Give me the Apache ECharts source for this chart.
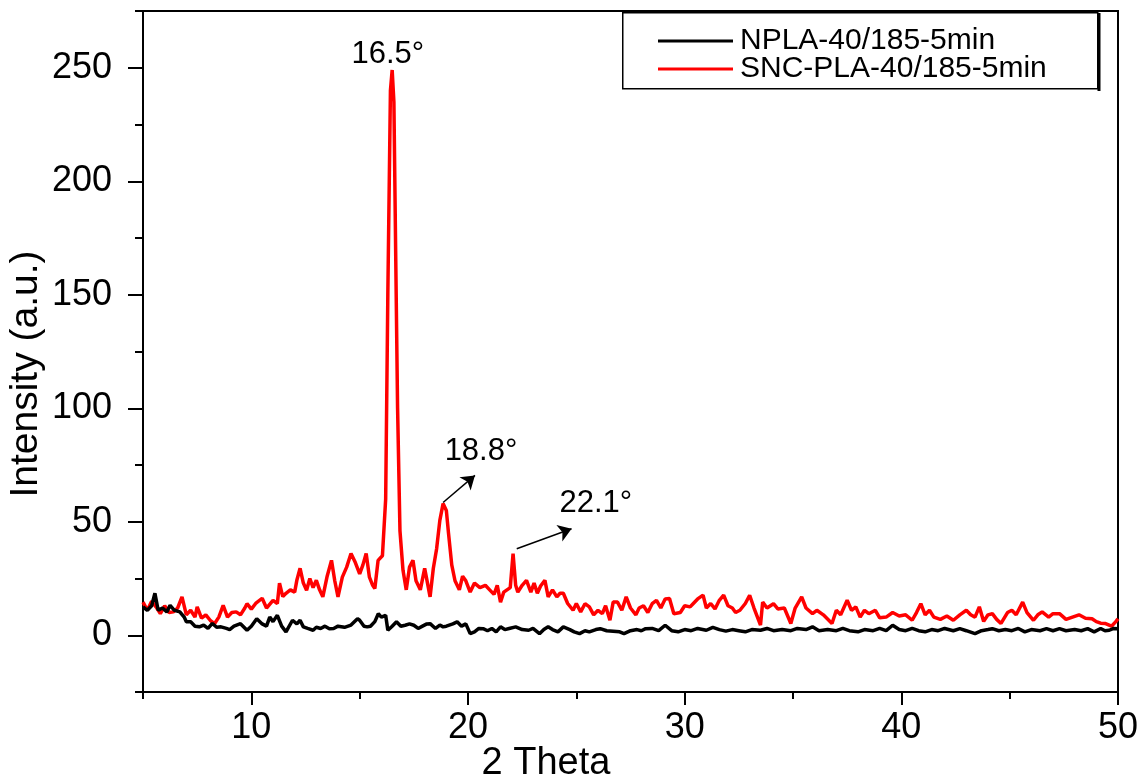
<!DOCTYPE html>
<html>
<head>
<meta charset="utf-8">
<script src="https://cdn.jsdelivr.net/npm/echarts@6/dist/echarts.min.js"></script>
<style>html,body{margin:0;padding:0;background:#fff;}#c{width:1145px;height:783px;}</style>
</head>
<body>
<div id="c"></div>
<script>
// ---- Data ----
const seriesNames = ['NPLA-40/185-5min', 'SNC-PLA-40/185-5min'];

const redX = [5.0,5.2,5.4,5.6,5.8,6.0,6.2,6.4,6.6,6.8,7.0,7.2,7.4,7.5,7.7,7.9,8.1,8.3,8.5,8.7,8.9,9.1,9.3,9.5,9.7,9.8,10.0,10.2,10.5,10.7,11.0,11.2,11.3,11.45,11.6,11.8,12.0,12.1,12.25,12.4,12.55,12.7,12.85,13.0,13.15,13.3,13.5,13.7,13.85,14.0,14.2,14.4,14.6,14.8,15.0,15.15,15.3,15.45,15.6,15.7,15.85,16.05,16.2,16.3,16.42,16.5,16.58,16.66,16.75,16.86,17.0,17.15,17.3,17.46,17.6,17.8,18.0,18.15,18.25,18.4,18.55,18.7,18.85,19.0,19.1,19.25,19.4,19.6,19.75,19.9,20.1,20.3,20.55,20.8,21.0,21.2,21.35,21.5,21.65,21.8,21.95,22.08,22.2,22.3,22.5,22.7,22.9,23.05,23.2,23.35,23.55,23.7,23.9,24.1,24.25,24.4,24.6,24.85,25.0,25.2,25.4,25.6,25.8,26.0,26.2,26.35,26.55,26.7,26.9,27.1,27.3,27.5,27.75,27.9,28.1,28.3,28.5,28.7,28.9,29.1,29.3,29.5,29.8,30.0,30.25,30.4,30.6,30.85,31.0,31.2,31.4,31.6,31.8,32.0,32.2,32.35,32.55,32.8,33.0,33.2,33.5,33.6,33.8,34.1,34.3,34.6,34.9,35.1,35.4,35.6,35.9,36.1,36.4,36.8,37.0,37.2,37.5,37.7,37.9,38.1,38.3,38.5,38.8,39.0,39.3,39.6,39.9,40.2,40.5,40.7,40.9,41.1,41.3,41.5,41.8,42.1,42.4,42.7,43.0,43.2,43.4,43.6,43.8,44.0,44.2,44.4,44.6,44.9,45.1,45.3,45.6,45.8,46.1,46.3,46.5,46.8,47.0,47.3,47.6,47.9,48.2,48.5,48.8,49.0,49.2,49.4,49.7,49.9,50.0];
const redY = [14.6,11,15,12.5,9.5,13,10,10.3,12,16.9,9,11,8,12.5,7.5,9,6.6,5.1,8,13.2,8,10,10.3,9,12,13.9,11.5,14,16.3,12,15.4,14,22.9,17,18.5,20,19,24.2,29.5,23,19.8,25,21,24.2,20,16.9,26,33,24,16.9,25.6,30,36,32,27,31,36,25.6,22,20.6,33,35,60,150,240,249,235,170,100,46,28.6,20,30,33,24,20,29.5,22,16.9,29.5,38,50.6,58,55,45,31,24,20,26,24,19,23,21,22,20,18,22,14.6,19,20,21,36,22,19,22,24.2,19,23,18.5,21.7,24.2,16.9,20,16.9,18.5,18.5,14,11,14,10.3,13.9,12.5,9,11,9.5,13,6.6,14.6,14.6,11,16.9,12,9,12,13,10,13.9,15.4,12,16,16.2,9.5,10,13,12.5,14,16,17.7,12,14,11.6,15.4,17.7,13,12,10,11,14,17.6,12,4.5,14.6,12,13.9,11.6,12,5.2,12,16.9,12,9.5,11,9,5.2,11,9,15.4,11,12.5,8,11,9.5,11,7.7,8,10,8.5,9,6.6,10,13.9,9,11,8,7,8.5,6.6,9,11,9,8,12.5,6.1,9,9.5,7,5.2,10,11,9,14.6,10,6.6,9,10.3,8,9.5,9.5,7,8,9,7.5,7.3,6,5.3,5.2,4,6,7.3];

const blackX = [5.0,5.2,5.4,5.55,5.7,5.9,6.1,6.25,6.45,6.7,6.9,7.0,7.2,7.4,7.6,7.8,8.0,8.2,8.4,8.6,8.85,9.0,9.2,9.5,9.8,10.0,10.25,10.5,10.7,10.85,11.0,11.2,11.4,11.6,11.9,12.1,12.25,12.4,12.6,12.85,13.0,13.2,13.4,13.6,13.8,14.0,14.3,14.6,14.9,15.0,15.2,15.35,15.5,15.7,15.86,16.0,16.2,16.3,16.5,16.7,16.9,17.1,17.3,17.5,17.7,17.9,18.1,18.25,18.5,18.7,18.85,19.0,19.3,19.5,19.7,19.9,20.1,20.3,20.5,20.7,20.9,21.1,21.3,21.5,21.7,21.9,22.2,22.5,22.8,23.0,23.3,23.5,23.7,23.9,24.15,24.4,24.7,24.9,25.15,25.4,25.6,25.9,26.1,26.4,26.7,27.0,27.2,27.5,27.8,28.0,28.2,28.5,28.8,29.1,29.4,29.7,30.0,30.3,30.6,31.0,31.3,31.6,31.9,32.2,32.5,32.8,33.1,33.5,33.8,34.1,34.5,34.9,35.2,35.6,35.9,36.2,36.6,37.0,37.3,37.6,38.0,38.3,38.7,39.0,39.3,39.6,39.9,40.2,40.5,40.8,41.1,41.4,41.7,42.0,42.4,42.7,43.0,43.4,43.7,44.0,44.2,44.5,44.8,45.1,45.4,45.7,46.0,46.4,46.7,47.0,47.3,47.6,48.0,48.3,48.6,48.9,49.2,49.4,49.6,49.8,50.0];
const blackY = [12.5,11,13,18.5,11,12,10.3,13.2,11,10.3,8,6,5.9,4,3.7,4.5,3,5.2,3.5,3.7,3,2.5,4,5.1,2.2,4,7.3,5,4,8,6,8.8,4,1.5,6.6,5,6.6,3.7,3,2.2,3.5,3,4,2.9,3,4,3.5,4.5,7.3,6.6,4,3.7,4,6,9.5,8,8.8,2.2,4,5.9,4,4.4,5,4.4,3,4,5,5.1,3,4.5,3.7,4,5,5.9,4,5,0.7,1.5,3,2.9,2,3,1.5,3.7,2.5,3,3.7,2.5,2.2,3,0.7,2.5,3.7,2.5,1.5,3.7,2.5,1.5,0.7,2,1.5,2.5,2.9,2,1.8,1.5,0.7,2,2.5,2,2.9,3,2,4.4,2,1.5,2.5,2,3,2.2,3.5,2.5,1.8,2.5,2,1.5,2.5,2.2,3,2,2.5,2,3,2.5,3.7,2,2.5,2,3,2,1.5,2.5,2,3,2,4.4,2.5,2,3,2,1.5,2.5,2,3,2,2.9,2,0.7,2,2.5,2.9,2,2.5,2,3,1.5,2.5,2,2.9,2,2.9,2,2.5,2,2.9,1.5,3,2,2.2,3,2.9];

const xMajorTicks = [10, 20, 30, 40, 50];
const xMinorTicks = [5, 15, 25, 35, 45];
const yMajorTicks = [0, 50, 100, 150, 200, 250];
const yMinorTicks = [-25, 25, 75, 125, 175, 225, 275];

const annX = [16.3, 20.6, 25.9];
const annY = [256, 81, 58];
const annText = ['16.5°', '18.8°', '22.1°'];
const arrowFrom = [[18.85, 58.5], [22.25, 38.1]];
const arrowTo = [[20.32, 70.4], [24.78, 46.9]];

// ---- Chart ----
const FONT = "'Liberation Sans', Arial, sans-serif";
const chart = echarts.init(document.getElementById('c'), null, {renderer: 'canvas'});

const pair = (xs, ys) => xs.map((x, i) => [x, ys[i]]);

const option = {
  animation: false,
  backgroundColor: '#fff',
  grid: {left: 143, right: 27, top: 11, bottom: 91, show: true, borderColor: '#000', borderWidth: 2, backgroundColor: 'transparent'},
  legend: {
    data: seriesNames,
    orient: 'vertical',
    left: 658, top: 26,
    padding: 0,
    itemGap: -2,
    itemWidth: 75, itemHeight: 3,
    icon: 'rect',
    textStyle: {fontFamily: FONT, fontSize: 30, color: '#000', padding: [0, 0, 0, 2]}
  },
  xAxis: [{
    type: 'value', min: 5, max: 50,
    axisLine: {onZero: false, lineStyle: {color: '#000', width: 2}},
    splitLine: {show: false},
    axisTick: {show: true, inside: false, length: 13, lineStyle: {color: '#000', width: 2}, customValues: xMajorTicks},
    axisLabel: {customValues: xMajorTicks, margin: 18, fontFamily: FONT, fontSize: 36, color: '#000'}
  }, {
    type: 'value', min: 5, max: 50, position: 'bottom',
    axisLine: {show: false, onZero: false},
    splitLine: {show: false},
    axisTick: {show: true, inside: false, length: 7, lineStyle: {color: '#000', width: 2}, customValues: xMinorTicks},
    axisLabel: {show: false}
  }],
  yAxis: [{
    type: 'value', min: -25, max: 275,
    axisLine: {show: true, onZero: false, lineStyle: {color: '#000', width: 2}},
    splitLine: {show: false},
    axisTick: {show: true, length: 15, lineStyle: {color: '#000', width: 2}, customValues: yMajorTicks},
    axisLabel: {customValues: yMajorTicks, margin: 31, fontFamily: FONT, fontSize: 36, color: '#000'}
  }, {
    type: 'value', min: -25, max: 275, position: 'left',
    axisLine: {show: false, onZero: false},
    splitLine: {show: false},
    axisTick: {show: true, inside: false, length: 8, lineStyle: {color: '#000', width: 2}, customValues: yMinorTicks},
    axisLabel: {show: false}
  }],
  series: [{
    name: seriesNames[1],
    type: 'line',
    data: pair(redX, redY),
    showSymbol: false,
    symbol: 'none',
    color: '#ff0000',
    lineStyle: {color: '#ff0000', width: 3.5},
    z: 2,
    markPoint: {
      symbol: 'circle', symbolSize: 0,
      label: {show: true, position: 'inside', fontFamily: FONT, fontSize: 31, color: '#000', formatter: p => p.name},
      data: annText.map((t, i) => ({name: t, coord: [annX[i], annY[i]]}))
    },
    markLine: {
      silent: true,
      symbol: ['none', 'arrow'],
      symbolSize: 13,
      label: {show: false},
      lineStyle: {color: '#000', width: 1.5, type: 'solid'},
      itemStyle: {color: '#000'},
      emphasis: {disabled: true},
      data: arrowFrom.map((f, i) => [{coord: f}, {coord: arrowTo[i]}])
    }
  }, {
    name: seriesNames[0],
    type: 'line',
    data: pair(blackX, blackY),
    showSymbol: false,
    symbol: 'none',
    color: '#000000',
    lineStyle: {color: '#000000', width: 3.5},
    z: 3
  }],
  graphic: [
    {type: 'rect', left: 622, top: 12, z: -1, shape: {width: 475, height: 76}, style: {fill: '#fff', stroke: '#000', lineWidth: 1.5}},
    {type: 'line', z: 0, shape: {x1: 1099, y1: 13, x2: 1099, y2: 91}, style: {stroke: '#000', lineWidth: 3}},
    {type: 'text', x: 546, y: 764, style: {text: '2 Theta', font: '38px ' + FONT, fill: '#000', textAlign: 'center', textVerticalAlign: 'middle'}},
    {type: 'text', x: 26, y: 374, rotation: Math.PI / 2, style: {text: 'Intensity (a.u.)', font: '39px ' + FONT, fill: '#000', textAlign: 'center', textVerticalAlign: 'middle'}}
  ]
};
chart.setOption(option);
</script>
</body>
</html>
